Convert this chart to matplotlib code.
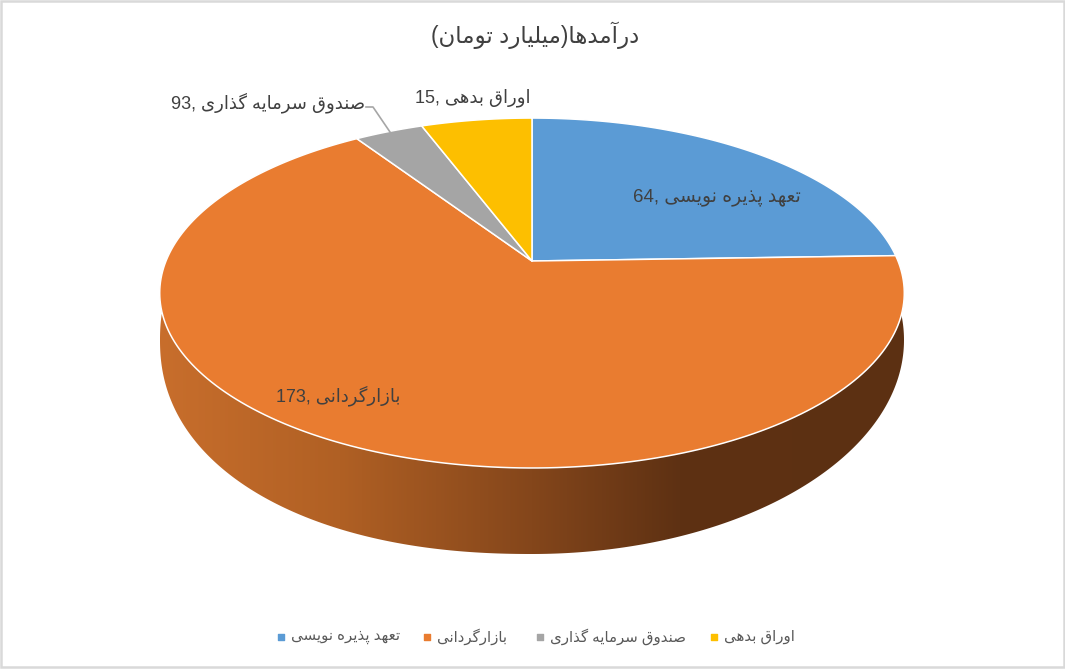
import matplotlib
matplotlib.use("Agg")
import matplotlib.pyplot as plt
from matplotlib.patches import Rectangle, Polygon
import numpy as np

# persian text, matplotlib has no shaping so it is done by hand below
title = "درآمدها(میلیارد تومان)"
categories = ["تعهد پذیره نویسی", "بازارگردانی", "صندوق سرمایه گذاری", "اوراق بدهی"]
values = [64, 173, 9.3, 15]
label_values = ["64", "173", "93", "15"]
colors = ["#5b9bd5", "#e97c30", "#a5a5a5", "#fdbf00"]

# isolated, final, initial, medial
forms = {
    "ا": "\uFE8D\uFE8E", "آ": "\uFE81\uFE82", "د": "\uFEA9\uFEAA", "ذ": "\uFEAB\uFEAC",
    "ر": "\uFEAD\uFEAE", "ز": "\uFEAF\uFEB0", "و": "\uFEED\uFEEE",
    "ب": "\uFE8F\uFE90\uFE91\uFE92", "پ": "\uFB56\uFB57\uFB58\uFB59",
    "ت": "\uFE95\uFE96\uFE97\uFE98", "س": "\uFEB1\uFEB2\uFEB3\uFEB4",
    "ص": "\uFEB9\uFEBA\uFEBB\uFEBC", "ع": "\uFEC9\uFECA\uFECB\uFECC",
    "ق": "\uFED5\uFED6\uFED7\uFED8", "گ": "\uFB92\uFB93\uFB94\uFB95",
    "ل": "\uFEDD\uFEDE\uFEDF\uFEE0", "م": "\uFEE1\uFEE2\uFEE3\uFEE4",
    "ن": "\uFEE5\uFEE6\uFEE7\uFEE8", "ه": "\uFEE9\uFEEA\uFEEB\uFEEC",
    "ی": "\uFBFC\uFBFD\uFBFE\uFBFF",
}
mirror = {"(": ")", ")": "("}


def shape(s):
    out = []
    for i, c in enumerate(s):
        if c not in forms:
            out.append(mirror.get(c, c))
            continue
        prev = s[i - 1] if i > 0 else " "
        nxt = s[i + 1] if i < len(s) - 1 else " "
        join_prev = prev in forms and len(forms[prev]) == 4
        join_next = nxt in forms and len(forms[c]) == 4
        if join_prev and join_next:
            out.append(forms[c][3])
        elif join_next:
            out.append(forms[c][2])
        elif join_prev:
            out.append(forms[c][1])
        else:
            out.append(forms[c][0])
    return "".join(reversed(out))


fonts = ["Liberation Sans", "DejaVu Sans"]
txt = "#404040"

fig = plt.figure(figsize=(10.65, 6.69), dpi=100)
ax = fig.add_axes([0, 0, 1, 1])
ax.set_xlim(0, 1065)
ax.set_ylim(669, 0)
ax.axis("off")

# perspective circle -> screen
cx, cy = 532, 261
a, b, k = 366, 169.1, 0.183


def rim(t):
    x, y = np.sin(t), np.cos(t)
    w = 1 + k * y
    return cx + a * x / w, cy - b * y / w


# wall with the gradient, clipped to the lower rim (left side is a bit boxier)
tt = np.linspace(0, 2 * np.pi, 600)
ct, st = np.cos(tt), np.sin(tt)
n = np.where(ct < 0, 2.18, 2.0)
low_x = 532 + 372 * np.sign(ct) * np.abs(ct) ** (2 / n)
low_y = 340 + 214 * np.sign(st) * np.abs(st) ** (2 / n)
keep = low_y >= 314
order = np.argsort(tt[keep])
wall = Polygon(np.column_stack([low_x[keep][order], low_y[keep][order]]), closed=True, fc="none", ec="none")
ax.add_patch(wall)
stops_x = [160, 340, 532, 680, 905]
stops_r = [200, 176, 132, 94, 92]
stops_g = [110, 96, 70, 49, 48]
stops_b = [44, 36, 27, 19, 18]
xs = np.arange(160, 906)
grad = np.stack([np.interp(xs, stops_x, stops_r),
                 np.interp(xs, stops_x, stops_g),
                 np.interp(xs, stops_x, stops_b)], axis=-1)[None, :, :] / 255
im = ax.imshow(grad, extent=[160, 905, 560, 300], aspect="auto", zorder=1)
im.set_clip_path(wall)
ax.set_xlim(0, 1065)
ax.set_ylim(669, 0)

# slices on top
edges = np.concatenate([[0], np.cumsum(values)]) / np.sum(values) * 2 * np.pi
for i in range(len(values)):
    t = np.linspace(edges[i], edges[i + 1], 200)
    px, py = rim(t)
    ax.fill(np.r_[cx, px], np.r_[cy, py], fc=colors[i], ec="white", lw=1.1, zorder=2, joinstyle="round")

ax.text(535, 35, shape(title), ha="center", va="center", fontsize=16.5, color=txt, family=fonts)

# data labels
ax.text(717, 197, label_values[0] + ", " + shape(categories[0]), ha="center", va="center", fontsize=13.5, color=txt, family=fonts)
ax.text(338, 396, label_values[1] + ", " + shape(categories[1]), ha="center", va="center", fontsize=13, color=txt, family=fonts)
ax.text(268, 103, label_values[2] + ", " + shape(categories[2]), ha="center", va="center", fontsize=13, color=txt, family=fonts)
ax.text(473, 98, label_values[3] + ", " + shape(categories[3]), ha="center", va="center", fontsize=13, color=txt, family=fonts)
ax.plot([366, 373, 390], [107, 107, 132], color="#a6a6a6", lw=1.2, zorder=3)

# legend
leg_x = [281, 427, 540, 714]
for i in range(4):
    ax.scatter([leg_x[i]], [637], marker="s", s=22, color=colors[i], zorder=3)
    ax.text(leg_x[i] + 10, 637, shape(categories[i]), ha="left", va="center", fontsize=10.8, color="#595959", family=fonts)

# chart frame
ax.add_patch(Rectangle((1, 1), 1063, 666, fc="none", ec="#d9d9d9", lw=1.8, zorder=4))

fig.savefig("out.png", dpi=100)
